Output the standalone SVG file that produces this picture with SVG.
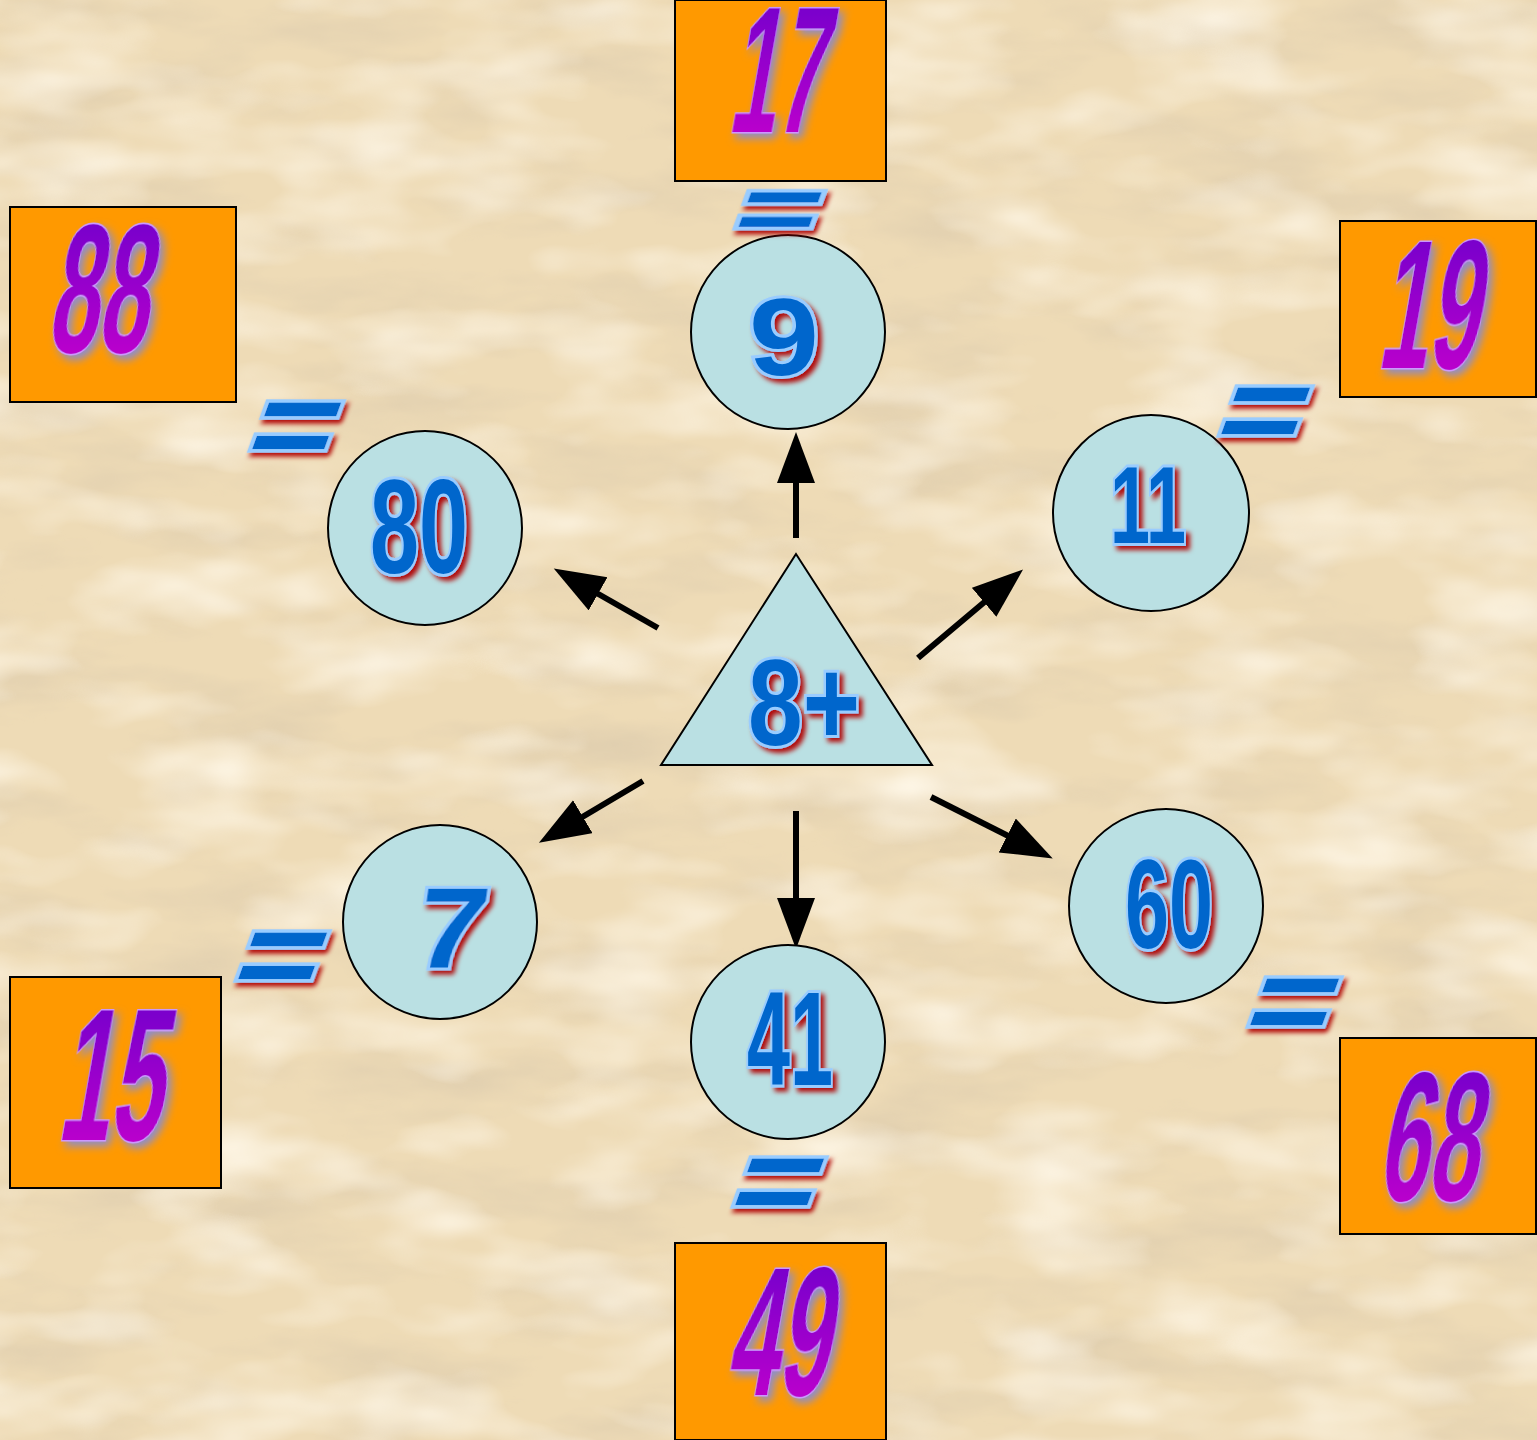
<svg xmlns="http://www.w3.org/2000/svg" width="1537" height="1440" viewBox="0 0 1537 1440">
<defs>
<style>
.box{fill:#ff9900;stroke:#000;stroke-width:2}
.node{fill:#bae0e3;stroke:#000;stroke-width:2}
.big{font-family:"Liberation Sans","DejaVu Sans",sans-serif;font-weight:bold;fill:url(#pg);stroke:#cc99ff;stroke-width:3;paint-order:stroke;filter:url(#ps)}
.num{font-family:"Liberation Sans","DejaVu Sans",sans-serif;font-weight:bold;fill:#0066cc;stroke:#99ccff;stroke-width:6;paint-order:stroke;filter:url(#rs)}
.eq{font-family:"Liberation Sans","DejaVu Sans",sans-serif;font-weight:bold;fill:#0066cc;stroke:#99ccff;stroke-width:7;paint-order:stroke;filter:url(#rs)}
.arr{stroke:#000;stroke-width:6;fill:none;marker-end:url(#ah)}
</style>
<linearGradient id="pg" x1="0" y1="0" x2="0" y2="1">
<stop offset="0" stop-color="#6600cc"/>
<stop offset="1" stop-color="#cc00cc"/>
</linearGradient>
<filter id="ps" x="-30%" y="-30%" width="160%" height="160%">
<feDropShadow dx="5" dy="5" stdDeviation="4" flood-color="#8f8fc8" flood-opacity="1"/>
</filter>
<filter id="rs" x="-30%" y="-30%" width="160%" height="160%">
<feDropShadow dx="4" dy="4" stdDeviation="2.5" flood-color="#b00000" flood-opacity="0.95"/>
</filter>
<filter id="tex" filterUnits="userSpaceOnUse" x="0" y="0" width="1537" height="1440">
<feTurbulence type="fractalNoise" baseFrequency="0.006 0.018" numOctaves="4" seed="7" result="n"/>
<feColorMatrix in="n" type="matrix" values="0 0 0 0 0.72  0 0 0 0 0.60  0 0 0 0 0.42  1.6 0 0 0 -0.72" result="dark"/>
<feTurbulence type="fractalNoise" baseFrequency="0.007 0.016" numOctaves="3" seed="23" result="n2"/>
<feColorMatrix in="n2" type="matrix" values="0 0 0 0 1  0 0 0 0 0.94  0 0 0 0 0.82  1.8 0 0 0 -0.8" result="light"/>
<feMerge><feMergeNode in="dark"/><feMergeNode in="light"/></feMerge>
</filter>
<marker id="ah" markerUnits="userSpaceOnUse" markerWidth="52" markerHeight="40" refX="30" refY="19" orient="auto">
<path d="M0,0 L51,19 L0,38 Z" fill="#000"/>
</marker>
</defs>

<rect width="1537" height="1440" fill="#eedbb6"/>
<rect width="1537" height="1440" fill="#eedbb6" filter="url(#tex)"/>

<g id="connectors">
<line class="arr" x1="796" y1="538" x2="796" y2="453"/>
<line class="arr" x1="658" y1="628" x2="572" y2="579"/>
<line class="arr" x1="918" y1="658" x2="1007" y2="583"/>
<line class="arr" x1="643" y1="781" x2="557" y2="832"/>
<line class="arr" x1="796" y1="811" x2="796" y2="928"/>
<line class="arr" x1="931" y1="797" x2="1034" y2="849"/>
</g>

<g id="center">
<polygon class="node" points="796,554 661,765 932,765"/>
<text class="num" x="804" y="745" font-size="122" text-anchor="middle" textLength="112" lengthAdjust="spacingAndGlyphs">8+</text>
</g>

<g id="n9">
<circle class="node" cx="788" cy="332" r="97"/>
<text class="num" x="784" y="375" font-size="109" text-anchor="middle" textLength="70" lengthAdjust="spacingAndGlyphs">9</text>
</g>
<g id="eq-top"><text class="eq" transform="translate(769,240) skewX(-20)" font-size="90" text-anchor="middle" textLength="82" lengthAdjust="spacingAndGlyphs">=</text></g>
<g id="b17">
<rect class="box" x="675" y="0" width="211" height="181"/>
<text class="big" transform="translate(774,132) skewX(-10)" font-size="180" text-anchor="middle" textLength="94" lengthAdjust="spacingAndGlyphs">17</text>
</g>

<g id="n80">
<circle class="node" cx="425" cy="528" r="97"/>
<text class="num" x="419" y="573" font-size="133" text-anchor="middle" textLength="98" lengthAdjust="spacingAndGlyphs">80</text>
</g>
<g id="eq-ul"><text class="eq" transform="translate(282,466) skewX(-20)" font-size="122" text-anchor="middle" textLength="84" lengthAdjust="spacingAndGlyphs">=</text></g>
<g id="b88">
<rect class="box" x="10" y="207" width="226" height="195"/>
<text class="big" transform="translate(96,352) skewX(-10)" font-size="183" text-anchor="middle" textLength="100" lengthAdjust="spacingAndGlyphs">88</text>
</g>

<g id="n11">
<circle class="node" cx="1151" cy="513" r="98"/>
<text class="num" x="1148" y="543" font-size="110" text-anchor="middle" textLength="76" lengthAdjust="spacingAndGlyphs">11</text>
</g>
<g id="eq-ur"><text class="eq" transform="translate(1251,451) skewX(-20)" font-size="122" text-anchor="middle" textLength="84" lengthAdjust="spacingAndGlyphs">=</text></g>
<g id="b19">
<rect class="box" x="1340" y="221" width="196" height="176"/>
<text class="big" transform="translate(1426,368) skewX(-10)" font-size="183" text-anchor="middle" textLength="100" lengthAdjust="spacingAndGlyphs">19</text>
</g>

<g id="n7">
<circle class="node" cx="440" cy="922" r="97"/>
<text class="num" transform="translate(447,967) skewX(-8)" font-size="113" text-anchor="middle" textLength="70" lengthAdjust="spacingAndGlyphs">7</text>
</g>
<g id="eq-ll"><text class="eq" transform="translate(268,996) skewX(-20)" font-size="122" text-anchor="middle" textLength="84" lengthAdjust="spacingAndGlyphs">=</text></g>
<g id="b15">
<rect class="box" x="10" y="977" width="211" height="211"/>
<text class="big" transform="translate(108,1140) skewX(-10)" font-size="188" text-anchor="middle" textLength="104" lengthAdjust="spacingAndGlyphs">15</text>
</g>

<g id="n41">
<circle class="node" cx="788" cy="1042" r="97"/>
<text class="num" x="790" y="1085" font-size="133" text-anchor="middle" textLength="86" lengthAdjust="spacingAndGlyphs">41</text>
</g>
<g id="eq-bottom"><text class="eq" transform="translate(765,1222) skewX(-20)" font-size="122" text-anchor="middle" textLength="84" lengthAdjust="spacingAndGlyphs">=</text></g>
<g id="b49">
<rect class="box" x="675" y="1243" width="211" height="197"/>
<text class="big" transform="translate(776,1395) skewX(-10)" font-size="182" text-anchor="middle" textLength="102" lengthAdjust="spacingAndGlyphs">49</text>
</g>

<g id="n60">
<circle class="node" cx="1166" cy="906" r="97"/>
<text class="num" x="1169" y="948" font-size="126" text-anchor="middle" textLength="88" lengthAdjust="spacingAndGlyphs">60</text>
</g>
<g id="eq-lr"><text class="eq" transform="translate(1280,1042) skewX(-20)" font-size="122" text-anchor="middle" textLength="84" lengthAdjust="spacingAndGlyphs">=</text></g>
<g id="b68">
<rect class="box" x="1340" y="1038" width="196" height="196"/>
<text class="big" transform="translate(1426,1200) skewX(-10)" font-size="183" text-anchor="middle" textLength="100" lengthAdjust="spacingAndGlyphs">68</text>
</g>
</svg>
